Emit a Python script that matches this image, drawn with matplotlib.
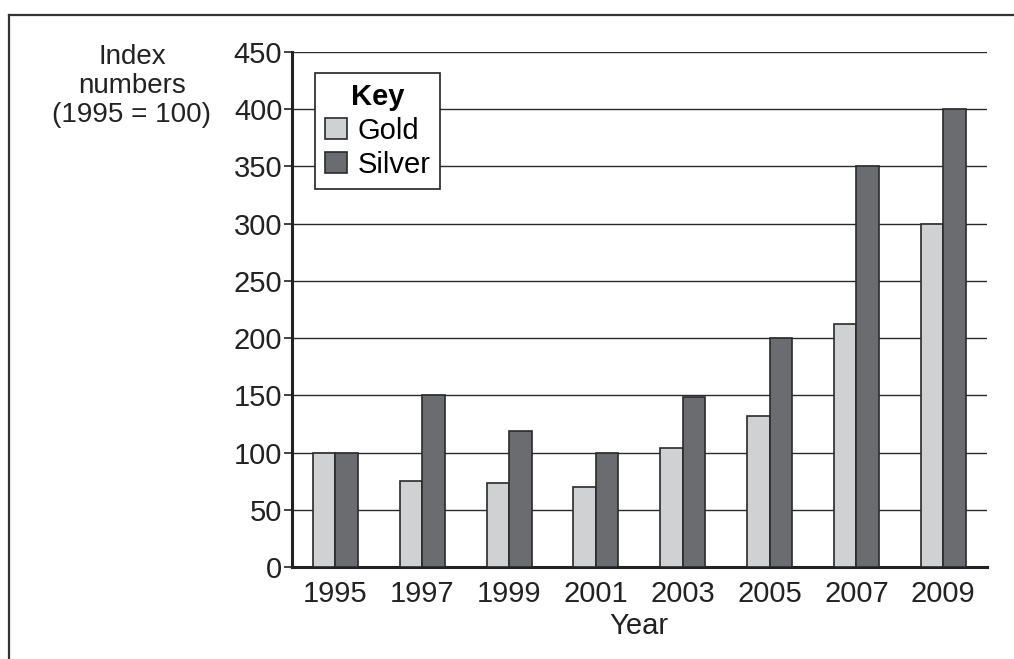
import numpy as np
import matplotlib
import matplotlib.pyplot as plt
from matplotlib.lines import Line2D

matplotlib.rcParams['font.family'] = ['Liberation Sans', 'DejaVu Sans']

# data
years = ['1995', '1997', '1999', '2001', '2003', '2005', '2007', '2009']
gold = [100, 75, 73, 70, 104, 132, 212, 300]
silver = [100, 150, 119, 100, 149, 200, 350, 400]

fig = plt.figure(figsize=(10.14, 6.59), dpi=100)
ax = fig.add_axes([0.288, 0.1396, 0.685, 0.7814])

x = np.arange(len(years))
w = 0.26
ax.bar(x - w/2, gold, width=w, color='#d0d1d3', edgecolor='#2a2a2a', linewidth=1.2, label='Gold', zorder=3)
ax.bar(x + w/2, silver, width=w, color='#6b6c70', edgecolor='#2a2a2a', linewidth=1.2, label='Silver', zorder=3)

ax.set_xlim(-0.5, len(years) - 0.5)
ax.set_ylim(0, 450)
ax.set_yticks(np.arange(0, 451, 50))
ax.set_xticks(x)
ax.set_xticklabels(years)
ax.yaxis.grid(True, color='#2a2a2a', linewidth=1.0, zorder=0)
ax.set_axisbelow(True)

for s in ['top', 'right']:
    ax.spines[s].set_visible(False)
ax.spines['left'].set_linewidth(2.2)
ax.spines['bottom'].set_linewidth(2.2)
ax.spines['left'].set_color('#222222')
ax.spines['bottom'].set_color('#222222')
ax.tick_params(axis='y', length=6, width=1.2, labelsize=21, pad=1, colors='#222222')
ax.tick_params(axis='x', length=0, labelsize=21, pad=9, colors='#222222')

ax.set_xlabel('Year', fontsize=21, color='#222222', labelpad=3)
fig.text(0.130, 0.869, 'Index\nnumbers\n(1995 = 100)', ha='center', va='center',
         fontsize=20, color='#222222', linespacing=1.15)

leg = ax.legend(title='Key', loc='upper left', bbox_to_anchor=(0.033, 0.96),
                fontsize=21, title_fontproperties={'weight': 'bold', 'size': 21},
                fancybox=False, framealpha=1, edgecolor='#222222',
                handlelength=0.75, handleheight=0.75, handletextpad=0.35,
                borderpad=0.35, labelspacing=0.2, borderaxespad=0)
leg.get_frame().set_linewidth(1.2)

# page frame lines
fig.add_artist(Line2D([0.009, 1.0], [0.977, 0.977], color='#333333', linewidth=1.6))
fig.add_artist(Line2D([0.009, 0.009], [0.0, 0.977], color='#333333', linewidth=1.6))

fig.savefig('out.png', dpi=100)
